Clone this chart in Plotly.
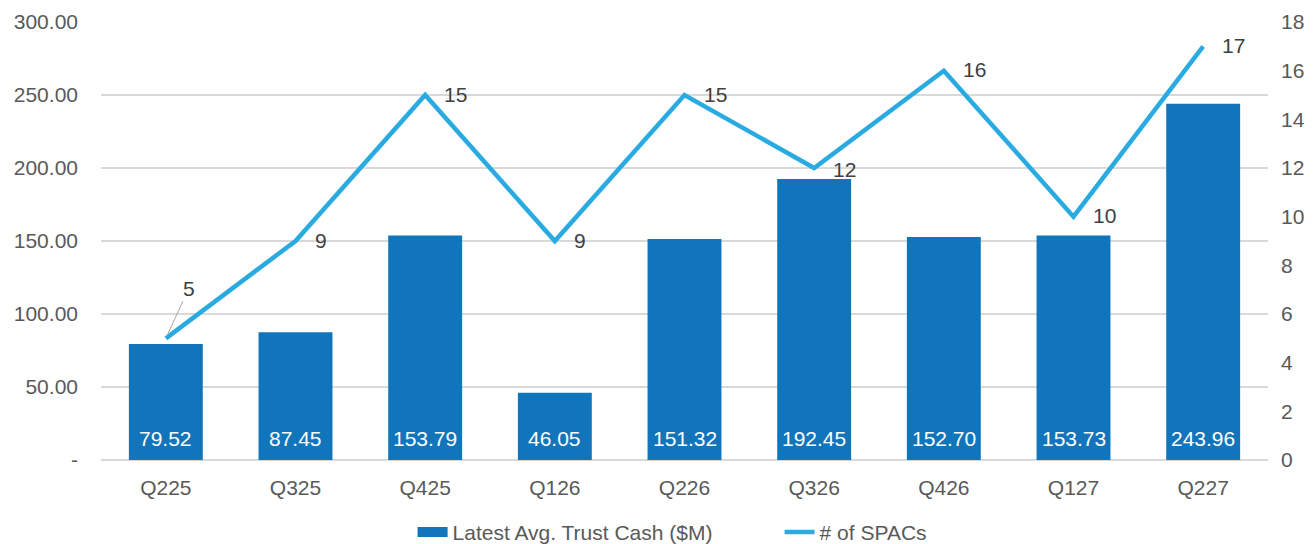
import plotly.graph_objects as go

quarters = ["Q225", "Q325", "Q425", "Q126", "Q226", "Q326", "Q426", "Q127", "Q227"]
trust_cash = [79.52, 87.45, 153.79, 46.05, 151.32, 192.45, 152.70, 153.73, 243.96]
spac_count = [5, 9, 15, 9, 15, 12, 16, 10, 17]

left_ticks = [0, 50, 100, 150, 200, 250, 300]
left_tick_text = ["-", "50.00", "100.00", "150.00", "200.00", "250.00", "300.00"]
right_ticks = [0, 2, 4, 6, 8, 10, 12, 14, 16, 18]

BAR_COLOR = "#1175BB"
LINE_COLOR = "#29ABE2"
TEXT_COLOR = "#595959"
LABEL_COLOR = "#404040"
FONT = "Liberation Sans, Arial, sans-serif"
FS = 21

fig = go.Figure()

fig.add_trace(go.Bar(
    x=quarters,
    y=trust_cash,
    name="Latest Avg. Trust Cash ($M)",
    marker=dict(color=BAR_COLOR, line=dict(width=0)),
    showlegend=False,
    yaxis="y",
))

# legend entry with a wide rectangular swatch, as in the original
fig.add_trace(go.Scatter(
    x=[None], y=[None],
    name="Latest Avg. Trust Cash ($M)",
    mode="lines",
    line=dict(color=BAR_COLOR, width=10),
))

fig.add_trace(go.Scatter(
    x=quarters,
    y=spac_count,
    name="# of SPACs",
    mode="lines",
    line=dict(color=LINE_COLOR, width=4.5),
    yaxis="y2",
))

# bar values, white, sitting near the bottom of each bar
for q, v in zip(quarters, trust_cash):
    fig.add_annotation(
        x=q, y=0, xref="x", yref="y", text=f"{v:.2f}",
        showarrow=False, yanchor="bottom", yshift=8,
        font=dict(size=FS, color="white", family=FONT),
    )

# point labels for the line, offset to the right of each point
for i, (q, n) in enumerate(zip(quarters, spac_count)):
    if i == 0:
        fig.add_annotation(
            x=q, y=n, xref="x", yref="y2", text=str(n),
            showarrow=True, arrowhead=0, arrowwidth=1, arrowcolor="#A6A6A6",
            ax=23, ay=-50, font=dict(size=FS, color=LABEL_COLOR, family=FONT),
            standoff=2,
        )
    else:
        fig.add_annotation(
            x=q, y=n, xref="x", yref="y2", text=str(n),
            showarrow=False, xanchor="left", xshift=17, yshift=1 if n != 12 else -1,
            font=dict(size=FS, color=LABEL_COLOR, family=FONT),
        )

# the page body has an 8px margin, so the figure is sized to fit inside it
fig.update_layout(
    template="none",
    width=1297,
    height=536,
    margin=dict(l=93, r=37, t=14, b=84, autoexpand=False),
    plot_bgcolor="white",
    paper_bgcolor="white",
    font=dict(family=FONT, size=FS, color=TEXT_COLOR),
    bargap=0.43,
    showlegend=True,
    legend=dict(
        orientation="h",
        x=0.267, xanchor="left",
        y=-0.165, yanchor="middle",
        font=dict(size=FS, color=TEXT_COLOR),
        bgcolor="rgba(0,0,0,0)",
        borderwidth=0,
        entrywidth=322,
        entrywidthmode="pixels",
    ),
    xaxis=dict(
        showgrid=False,
        showline=False,
        ticks="",
        automargin=False,
        ticklabelstandoff=13,
        tickfont=dict(size=FS, color=TEXT_COLOR),
    ),
    yaxis=dict(
        range=[0, 300],
        tickvals=left_ticks,
        ticktext=left_tick_text,
        showgrid=True,
        gridcolor="#D9D9D9",
        gridwidth=1.5,
        zeroline=True,
        zerolinecolor="#D9D9D9",
        zerolinewidth=1.5,
        showline=False,
        ticks="",
        automargin=False,
        ticklabelstandoff=22,
        tickfont=dict(size=FS, color=TEXT_COLOR),
    ),
    yaxis2=dict(
        range=[0, 18],
        tickvals=right_ticks,
        overlaying="y",
        side="right",
        showgrid=False,
        zeroline=False,
        showline=False,
        ticks="",
        automargin=False,
        ticklabelstandoff=12,
        tickfont=dict(size=FS, color=TEXT_COLOR),
    ),
)

fig.write_html("out.html")
